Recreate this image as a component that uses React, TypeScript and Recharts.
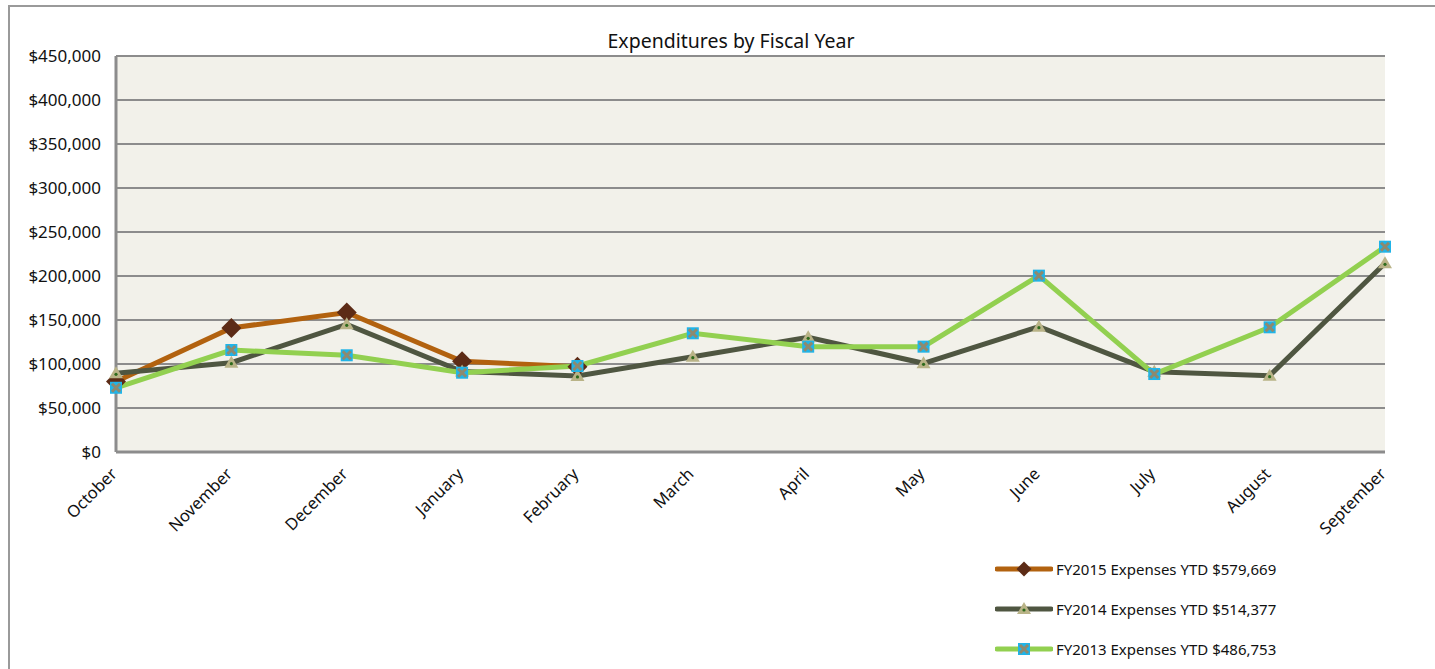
import React from 'react';
import { LineChart, Line, XAxis, YAxis, CartesianGrid } from 'recharts';

const months = [
  'October', 'November', 'December', 'January', 'February', 'March',
  'April', 'May', 'June', 'July', 'August', 'September',
];

// FY2015 only runs through February
const fy2015 = [80000, 141000, 158500, 103000, 97000, null, null, null, null, null, null, null];
const fy2014 = [89400, 101500, 145100, 91500, 86400, 108300, 130300, 100800, 142400, 91300, 86700, 214400];
const fy2013 = [73000, 115900, 109900, 90100, 97700, 134900, 119700, 119700, 200400, 88600, 141700, 233300];

const yTicks = [0, 50000, 100000, 150000, 200000, 250000, 300000, 350000, 400000, 450000];

const legendLabels = [
  'FY2015 Expenses YTD $579,669',
  'FY2014 Expenses YTD $514,377',
  'FY2013 Expenses YTD $486,753',
];

const data = months.map((m, i) => ({
  month: m,
  fy2015: fy2015[i],
  fy2014: fy2014[i],
  fy2013: fy2013[i],
}));

const FONT = '"Noto Sans", sans-serif';
const GRID = '#8c8c8c';

const COLORS = {
  fy2015: '#b2620f',
  fy2014: '#4f5641',
  fy2013: '#92d050',
};

const Diamond = ({ cx, cy }: any) => {
  if (cx == null || cy == null) return <g />;
  return (
    <polygon
      points={`${cx},${cy - 10} ${cx + 10},${cy} ${cx},${cy + 10} ${cx - 10},${cy}`}
      fill="#5c2b16"
    />
  );
};

const Triangle = ({ cx, cy }: any) => {
  if (cx == null || cy == null) return <g />;
  return (
    <g>
      <polygon points={`${cx},${cy - 7} ${cx + 7},${cy + 5} ${cx - 7},${cy + 5}`} fill="#b9b387" />
      <circle cx={cx} cy={cy + 1} r={1.6} fill="#2e6b1c" />
    </g>
  );
};

const Square = ({ cx, cy }: any) => {
  if (cx == null || cy == null) return <g />;
  return (
    <g>
      <rect x={cx - 6} y={cy - 6} width={12} height={12} fill="#20b4e8" />
      <line x1={cx - 4} y1={cy - 4} x2={cx + 4} y2={cy + 4} stroke="#8d8a70" strokeWidth={3} />
      <line x1={cx + 4} y1={cy - 4} x2={cx - 4} y2={cy + 4} stroke="#8d8a70" strokeWidth={3} />
    </g>
  );
};

const MonthTick = ({ x, y, payload }: any) => (
  <g transform={`translate(${x + 2},${y + 23})`}>
    <text x={0} y={0} textAnchor="end" transform="rotate(-45)" fontSize={16.5} fill="#111" fontFamily={FONT}>
      {payload.value}
    </text>
  </g>
);

const fmtMoney = (v: number) => '$' + v.toLocaleString('en-US');

const legendItems = [
  { label: legendLabels[0], color: COLORS.fy2015, Marker: Diamond, scale: 0.75 },
  { label: legendLabels[1], color: COLORS.fy2014, Marker: Triangle, scale: 1 },
  { label: legendLabels[2], color: COLORS.fy2013, Marker: Square, scale: 1 },
];

export default function App() {
  return (
    <div
      style={{
        position: 'absolute',
        left: 8,
        top: 5,
        width: 1427,
        height: 664,
        borderTop: '2px solid #9a9a9a',
        borderLeft: '2px solid #9a9a9a',
        boxSizing: 'border-box',
        overflow: 'hidden',
        background: '#fff',
        fontFamily: FONT,
      }}
    >
      <div
        style={{
          position: 'absolute',
          left: 0,
          width: 1442,
          top: 20,
          textAlign: 'center',
          fontSize: 19.5,
          color: '#111',
        }}
      >
        Expenditures by Fiscal Year
      </div>
      <LineChart
        width={1425}
        height={662}
        data={data}
        margin={{ top: 49, right: 50, left: 10, bottom: 137 }}
      >
        <CartesianGrid vertical={false} stroke={GRID} strokeWidth={2} fill="#f2f1ea" />
        <XAxis
          dataKey="month"
          height={80}
          axisLine={{ stroke: GRID, strokeWidth: 3 }}
          tickLine={false}
          tickSize={0}
          tickMargin={0}
          interval={0}
          tick={<MonthTick />}
        />
        <YAxis
          width={96}
          domain={[0, 450000]}
          ticks={yTicks}
          tickFormatter={fmtMoney}
          axisLine={{ stroke: GRID, strokeWidth: 3 }}
          tickLine={false}
          tickSize={0}
          tickMargin={15}
          tick={{ fontSize: 17, fill: '#111', fontFamily: FONT }}
        />
        <Line
          dataKey="fy2015"
          stroke={COLORS.fy2015}
          strokeWidth={5}
          dot={<Diamond />}
          activeDot={false}
          isAnimationActive={false}
        />
        <Line
          dataKey="fy2014"
          stroke={COLORS.fy2014}
          strokeWidth={5}
          dot={<Triangle />}
          activeDot={false}
          isAnimationActive={false}
        />
        <Line
          dataKey="fy2013"
          stroke={COLORS.fy2013}
          strokeWidth={5}
          dot={<Square />}
          activeDot={false}
          isAnimationActive={false}
        />
      </LineChart>
      <div style={{ position: 'absolute', left: 985, top: 542 }}>
        {legendItems.map(({ label, color, Marker, scale }) => (
          <div key={label} style={{ display: 'flex', alignItems: 'center', height: 40 }}>
            <svg width={58} height={24} style={{ marginRight: 3 }}>
              <line x1={2} y1={12} x2={56} y2={12} stroke={color} strokeWidth={5} strokeLinecap="round" />
              <g transform={`translate(29,12) scale(${scale}) translate(-29,-12)`}>
                <Marker cx={29} cy={12} />
              </g>
            </svg>
            <span style={{ fontSize: 15, color: '#111' }}>{label}</span>
          </div>
        ))}
      </div>
    </div>
  );
}
